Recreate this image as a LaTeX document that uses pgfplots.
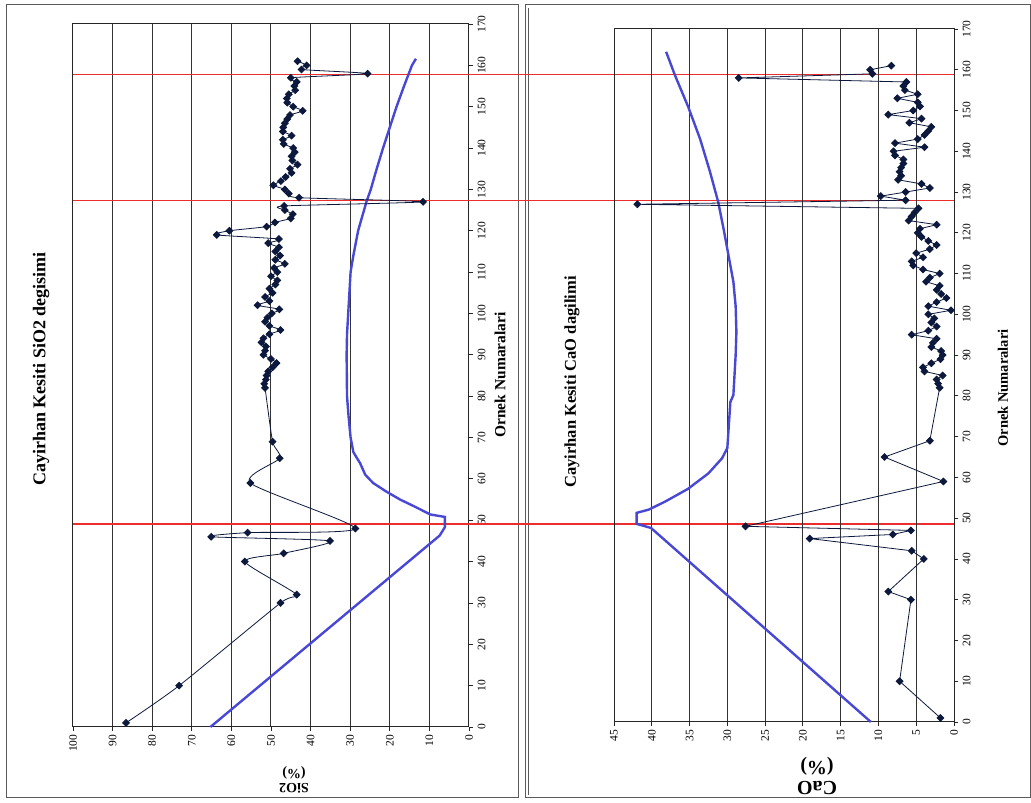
\documentclass[border=0pt]{standalone}
\usepackage{pgfplots}
\pgfplotsset{compat=1.18}
\usepackage{fontspec}
\setmainfont{Liberation Serif}

\definecolor{navy}{RGB}{12,25,60}
\definecolor{bluecurve}{RGB}{72,72,212}
\definecolor{redline}{RGB}{235,45,45}
\definecolor{framegray}{RGB}{90,90,90}

\pgfplotstableread{
s v
1 86.6
10 73.2
30 47.6
32 43.5
40 56.6
42 46.8
45 35.1
46 65.1
47 55.9
48 28.7
59 55.2
65 47.8
69 49.6
82 51.5
83 51.7
84 51.3
85 51.1
86 50.7
87 49.6
88 48.6
89 50.0
90 51.9
91 51.5
92 51.3
93 52.4
94 51.9
95 50.4
96 47.6
97 50.4
98 51.5
99 50.9
100 49.8
101 47.9
102 53.4
103 50.4
104 51.5
105 49.6
106 50.4
107 48.9
108 48.4
109 50.0
110 48.4
111 49.2
112 46.5
113 48.9
114 47.7
115 48.9
116 48.0
117 50.7
118 48.0
119 63.7
120 60.5
121 51.1
122 49.0
123 45.0
124 44.5
125 46.5
126 46.7
127 11.6
128 42.9
129 45.5
130 46.5
131 49.4
132 47.5
133 46.3
134 44.8
135 45.2
136 43.3
137 44.6
138 44.8
139 44.0
140 44.4
141 46.8
142 47.0
143 44.8
144 47.0
145 46.9
146 46.5
147 45.9
148 45.2
149 42.0
150 44.4
151 45.9
152 46.0
153 45.5
154 43.9
155 44.1
156 43.5
157 45.0
158 25.6
159 42.3
160 41.0
161 43.3
}\sio

\pgfplotstableread{
s v
1 1.8
10 7.2
30 5.7
32 8.7
40 4.0
42 5.6
45 19.1
46 8.1
47 5.7
48 27.6
59 1.4
65 9.2
69 3.2
82 1.9
83 2.1
84 2.3
85 1.5
86 3.9
87 4.1
88 3.0
89 1.8
90 1.5
91 1.7
92 3.0
93 2.8
94 2.3
95 5.6
96 3.4
97 2.3
98 3.0
99 2.6
100 3.4
101 0.4
102 3.4
103 2.3
104 1.0
105 1.7
106 2.3
107 1.9
108 3.7
109 3.2
110 1.9
111 4.1
112 5.4
113 5.6
114 4.1
115 5.0
116 3.2
117 2.3
118 3.4
119 4.3
120 4.8
121 4.5
122 2.3
123 6.0
124 5.6
125 5.2
126 4.7
127 41.9
128 6.4
129 9.7
130 6.4
131 3.2
132 4.3
133 7.4
134 7.0
135 7.2
136 7.0
137 6.7
138 6.7
139 7.8
140 8.0
141 3.9
142 7.8
143 4.8
144 3.9
145 3.4
146 3.0
147 5.9
148 4.3
149 8.7
150 5.4
151 4.5
152 4.8
153 7.5
154 4.8
155 6.5
156 6.7
157 6.3
158 28.5
159 10.8
160 11.1
161 8.3
}\cao

\pgfplotsset{
  common/.style={
    scale only axis, clip=false,
    xmin=0, x dir=reverse,
    ymin=0, ymax=170, ytick={0,10,...,170},
    axis line style={black!85, line width=1pt},
    grid style={black!80, line width=1pt},
    xmajorgrids, ymajorgrids=false,
    tick style={black!85, line width=0.8pt},
    tick align=outside, major tick length=4pt,
    xtick pos=left, ytick pos=right,
    yticklabel pos=right,
    xticklabel style={rotate=90, anchor=east, font=\fontsize{11.5}{11.5}\selectfont, inner sep=3.5pt},
    yticklabel style={rotate=90, anchor=north, font=\fontsize{11.5}{11.5}\selectfont, inner sep=4.5pt},
    /pgf/number format/assume math mode=true,
  },
  datastyle/.style={navy, line width=0.8pt, mark=square*, mark size=2.4pt,
    mark options={solid, fill=navy, draw=navy, rotate=45}},
  bluestyle/.style={bluecurve, line width=2.4pt, no marks},
}

\begin{document}
\begin{tikzpicture}[x=1pt,y=1pt]
\useasboundingbox (0,0) rectangle (1031,803);
\draw[framegray, line width=1pt] (6,5) rectangle (518,798);
\draw[framegray, line width=1pt] (525,5) rectangle (1030,798);
\draw[framegray, line width=0.7pt] (528,8) -- (528,795);

% ---------------- left panel: SiO2
\begin{axis}[common, at={(73pt,76pt)}, anchor=south west,
  width=396pt, height=703pt, xmax=100, xtick={0,10,...,100}]
\addplot[redline, line width=1.3pt, forget plot] coordinates {(100,49.1) (-122.5,49.1)};
\addplot[redline, line width=1.3pt, forget plot] coordinates {(100,127.3) (-122.5,127.3)};
\addplot[redline, line width=1.3pt, forget plot] coordinates {(100,157.8) (-122.5,157.8)};
\addplot[bluestyle] coordinates {
(65.3,0) (7.4,46.3) (6.1,48.3) (6.1,50.8) (9.8,51.4) (13.5,53.2) (17.4,55)
(21,57) (24.2,59) (26.2,61) (27.5,63.8) (28.6,65.5) (29.2,66.5) (29.9,70)
(30.4,75) (30.8,80) (30.9,90) (30.8,95) (30.5,100) (30.2,105) (29.9,110)
(29.2,114) (28,120) (25.9,127) (24.8,130) (23.3,135) (21.7,140) (20,145)
(18.3,150) (16.4,155) (14.4,160) (13.4,161.6)};
\addplot[datastyle, smooth, tension=0.4] table[x=v, y=s] {\sio};
\end{axis}

% ---------------- right panel: CaO
\begin{axis}[common, at={(614pt,81pt)}, anchor=south west,
  width=340pt, height=693pt, xmax=45, xtick={0,5,...,45}]
\addplot[bluestyle] coordinates {
(11,0) (40.1,47.6) (42,48.6) (42,51.3) (40.4,52.1) (38.2,54.1) (35.2,57.2)
(32.5,61) (30.7,64.7) (30,67.2) (29.6,78.5) (29.2,80.2) (28.9,90) (28.8,95.7)
(28.9,102) (29.2,108) (29.9,115) (30.5,121) (31.2,127.5) (32.3,135) (33.6,143)
(35.2,151) (36.9,158.5) (38.1,164.4)};
\addplot[datastyle] table[x=v, y=s] {\cao};
\end{axis}

% titles and labels
\node[rotate=90, font=\bfseries\fontsize{18}{18}\selectfont] at (41,434) {Cayirhan Kesiti SiO2 degisimi};
\node[rotate=90, font=\bfseries\fontsize{16.5}{16.5}\selectfont] at (572,421) {Cayirhan Kesiti CaO dagilimi};
\node[rotate=90, font=\bfseries\fontsize{15.5}{15.5}\selectfont] at (500,428) {Ornek Numaralari};
\node[rotate=90, font=\bfseries\fontsize{14.5}{14.5}\selectfont] at (1003,415) {Ornek Numaralari};
\node[rotate=180, align=center, font=\bfseries\fontsize{14}{14}\selectfont] at (294,23) {SiO2\\(\%)};
\node[rotate=180, align=center, font=\bfseries\fontsize{20}{20}\selectfont] at (817,27) {CaO\\(\%)};
\end{tikzpicture}
\end{document}
